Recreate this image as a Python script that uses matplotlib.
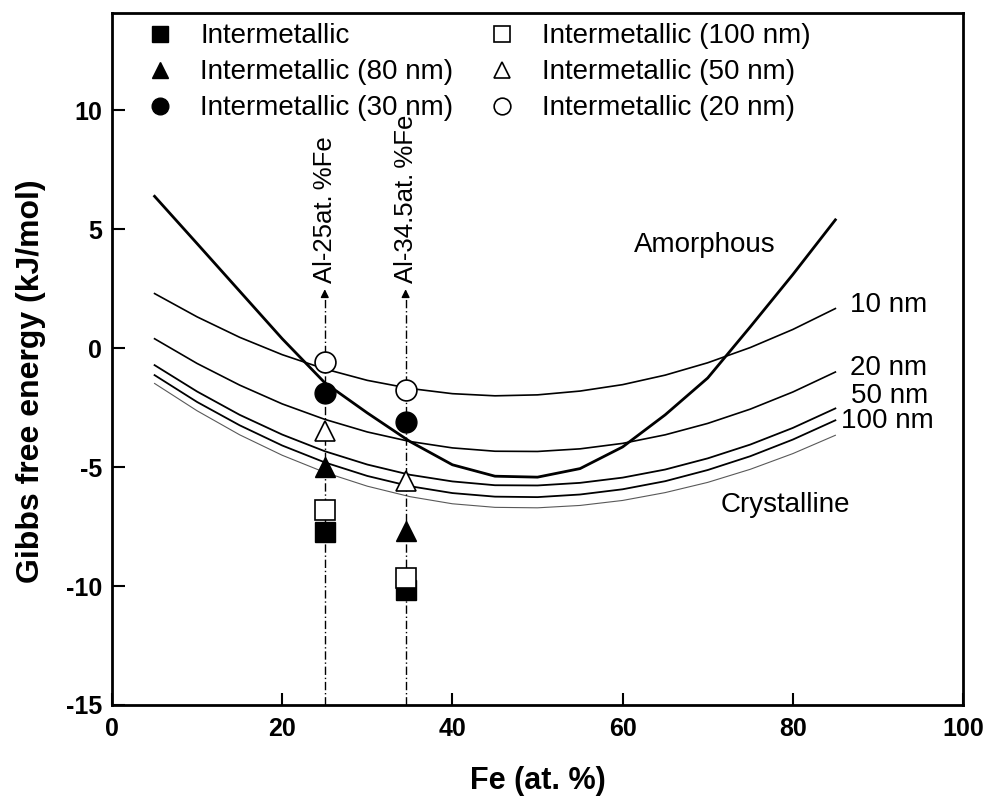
import matplotlib
matplotlib.use("Agg")
import matplotlib.pyplot as plt

plt.rcParams['font.family'] = ['Liberation Sans', 'DejaVu Sans']
plt.rcParams['axes.unicode_minus'] = False

# Gibbs free energy curves (kJ/mol)
fe = [5, 10, 15, 20, 25, 30, 35, 40, 45, 50, 55, 60, 65, 70, 75, 80, 85]
g_amorphous = [6.39, 4.40, 2.40, 0.40, -1.45, -2.72, -3.92, -4.90, -5.38, -5.42,
               -5.06, -4.15, -2.80, -1.25, 0.90, 3.10, 5.40]
g_10nm = [2.30, 1.32, 0.46, -0.27, -0.87, -1.35, -1.69, -1.91, -2.00, -1.96,
          -1.80, -1.53, -1.13, -0.61, 0.03, 0.79, 1.67]
g_20nm = [0.40, -0.64, -1.55, -2.34, -2.99, -3.52, -3.92, -4.19, -4.33, -4.34,
          -4.23, -4.00, -3.64, -3.16, -2.56, -1.84, -1.00]
g_50nm = [-0.71, -1.82, -2.80, -3.63, -4.33, -4.89, -5.32, -5.60, -5.76, -5.77,
          -5.66, -5.44, -5.10, -4.63, -4.05, -3.35, -2.53]
g_100nm = [-1.13, -2.26, -3.24, -4.09, -4.80, -5.37, -5.80, -6.09, -6.24, -6.26,
           -6.15, -5.93, -5.59, -5.12, -4.54, -3.84, -3.03]
g_cryst = [-1.48, -2.63, -3.64, -4.50, -5.22, -5.80, -6.24, -6.54, -6.69, -6.71,
           -6.61, -6.40, -6.07, -5.64, -5.09, -4.43, -3.66]

# intermetallic points at the two compositions
comp = [25, 34.5]
comp_labels = ["Al-25at.\u2009%Fe", "Al-34.5at.\u2009%Fe"]
im_bulk = [-7.72, -10.15]
im_100 = [-6.80, -9.66]
im_80 = [-4.99, -7.70]
im_50 = [-3.47, -5.60]
im_30 = [-1.90, -3.08]
im_20 = [-0.58, -1.75]

curve_labels = ["Amorphous", "10 nm", "20 nm", "50 nm", "100 nm", "Crystalline"]
label_x = [69.7, 91.2, 91.2, 91.4, 91.1, 79.1]
label_y = [4.33, 1.80, -0.84, -2.02, -3.07, -6.60]

fig = plt.figure(figsize=(9.87, 8.0), dpi=100)
ax = fig.add_axes([0.1135, 0.1188, 0.8622, 0.865])

ax.plot(fe, g_amorphous, color='k', lw=2.0)
ax.plot(fe, g_10nm, color='k', lw=1.2)
ax.plot(fe, g_20nm, color='k', lw=1.2)
ax.plot(fe, g_50nm, color='k', lw=1.3)
ax.plot(fe, g_100nm, color='k', lw=1.3)
ax.plot(fe, g_cryst, color='0.35', lw=0.8)

# composition guide lines with arrow
arrow_top = 2.6
for cx, lab in zip(comp, comp_labels):
    ax.plot([cx, cx], [-15, arrow_top - 0.3], color='k', lw=1.0, ls=(0, (6, 2, 1, 2)))
    ax.annotate('', xy=(cx, arrow_top), xytext=(cx, arrow_top - 0.5),
                arrowprops=dict(arrowstyle='-|>', color='k', lw=1.0, mutation_scale=12))
    ax.text(cx, arrow_top + 0.15, lab, rotation=90, ha='center', va='bottom', fontsize=18.5)

ms = 15
ax.plot(comp, im_bulk, 's', color='k', ms=ms - 1, label='Intermetallic')
ax.plot(comp, im_80, '^', color='k', ms=ms, label='Intermetallic (80 nm)')
ax.plot(comp, im_30, 'o', color='k', ms=ms, label='Intermetallic (30 nm)')
ax.plot(comp, im_100, 's', mfc='white', mec='k', mew=1.2, ms=ms - 1, label='Intermetallic (100 nm)')
ax.plot(comp, im_50, '^', mfc='white', mec='k', mew=1.2, ms=ms, label='Intermetallic (50 nm)')
ax.plot(comp, im_20, 'o', mfc='white', mec='k', mew=1.2, ms=ms, label='Intermetallic (20 nm)')

for t, lx, ly in zip(curve_labels, label_x, label_y):
    ax.text(lx, ly, t, ha='center', va='center', fontsize=20)

ax.legend(loc='upper left', bbox_to_anchor=(0.04, 0.985), ncol=2, frameon=False,
          fontsize=20, markerscale=0.8, handlelength=1.0, handletextpad=0.95,
          columnspacing=1.25, labelspacing=0.36, borderpad=0, borderaxespad=0)

ax.set_xlim(0, 100)
ax.set_ylim(-15, 14.1)
ax.set_xticks([0, 20, 40, 60, 80, 100])
ax.set_yticks([-15, -10, -5, 0, 5, 10])
ax.tick_params(direction='in', length=9, width=1.5, labelsize=18, pad=9)
ax.tick_params(axis='y', pad=7)
for lbl in ax.get_xticklabels() + ax.get_yticklabels():
    lbl.set_fontweight('bold')
for sp in ax.spines.values():
    sp.set_linewidth(2.0)

ax.set_xlabel('Fe (at. %)', fontsize=22, fontweight='bold', labelpad=18)
ax.set_ylabel('Gibbs free energy (kJ/mol)', fontsize=23, fontweight='bold')
ax.yaxis.set_label_coords(-0.078, 0.468)

fig.savefig('out.png', dpi=100)
